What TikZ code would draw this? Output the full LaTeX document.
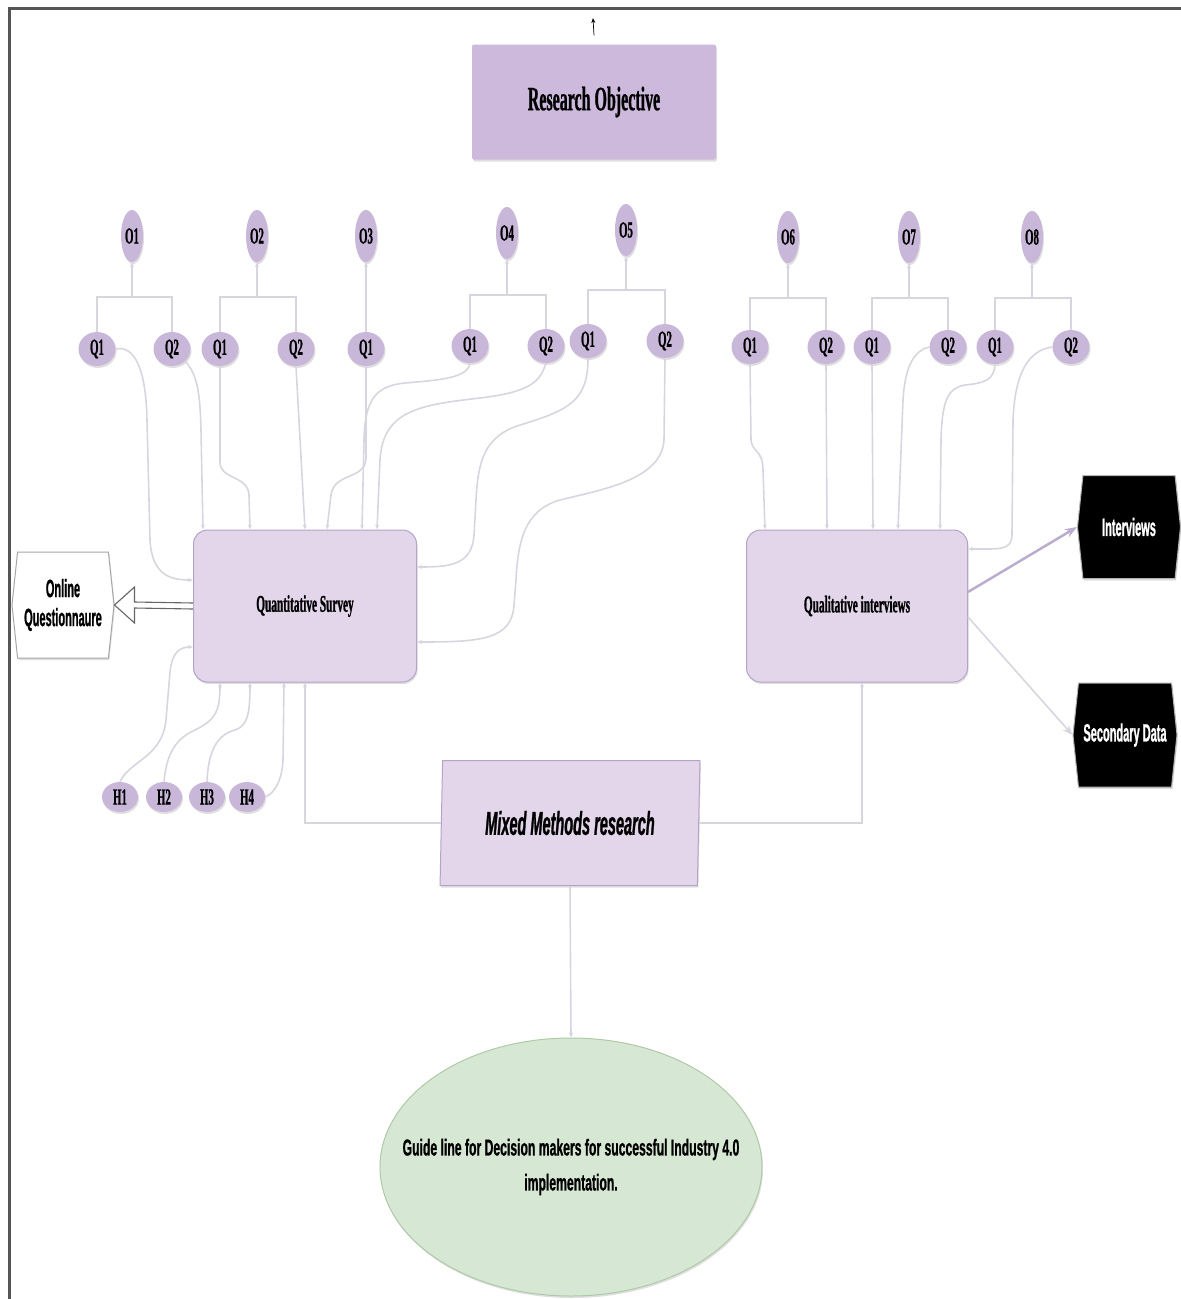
\documentclass[tikz,border=0pt]{standalone}
\usepackage{fontspec}
\usetikzlibrary{shapes.geometric,shapes.symbols,arrows.meta,shadows,calc}
\newfontfamily\serc[FakeStretch=0.47,FakeBold=0.8]{Liberation Serif Bold}
\newfontfamily\sanN[FakeStretch=0.44,FakeBold=0.8]{Liberation Sans Bold}
\newfontfamily\sanNI[FakeStretch=0.44,FakeBold=0.8]{Liberation Sans Bold Italic}
\newfontfamily\sanG[FakeStretch=0.53,FakeBold=0.8]{Liberation Sans Bold}
\definecolor{rofill}{HTML}{CCB9DC}
\definecolor{qfill}{HTML}{C9B7D9}
\definecolor{boxfill}{HTML}{E3D6EB}
\definecolor{boxdraw}{HTML}{B4A4C8}
\definecolor{lnc}{HTML}{D9D5E0}
\definecolor{gfill}{HTML}{D6E8D3}
\definecolor{gdraw}{HTML}{AFC9A8}
\definecolor{frame}{HTML}{555555}
\begin{document}
\begin{tikzpicture}[x=1pt,y=-1pt,
  shad/.style={drop shadow={shadow xshift=1pt,shadow yshift=-2pt,opacity=0.25}},
  qn/.style={ellipse,fill=qfill,minimum width=37pt,minimum height=34pt,inner sep=0pt,
    font=\serc\fontsize{23}{23}\selectfont,shad},
  on/.style={ellipse,fill=qfill,minimum width=22pt,minimum height=52pt,inner sep=0pt,
    font=\serc\fontsize{23}{23}\selectfont,shad},
  hn/.style={ellipse,fill=qfill,minimum width=36pt,minimum height=30pt,inner sep=0pt,
    font=\serc\fontsize{23}{23}\selectfont,shad},
  bigbox/.style={rectangle,rounded corners=14pt,fill=boxfill,draw=boxdraw,line width=1pt,
    minimum width=223pt,minimum height=152pt,font=\serc\fontsize{24}{24}\selectfont,shad},
  sig/.style={signal,signal to=west and east,signal pointer angle=168,inner sep=0pt,
    font=\sanN\fontsize{25}{29}\selectfont,align=center},
  conn/.style={draw=lnc,line width=1.6pt},
  tip/.style={-{Stealth[length=5pt,width=4pt]}},
]
\useasboundingbox (0,0) rectangle (1181,1299);
\fill[white] (0,0) rectangle (1181,1299);
\draw[line width=3pt,color=frame] (9,1299) -- (9,8) -- (1181,8);

% top
\node[rectangle,rounded corners=2pt,fill=rofill,minimum width=244pt,minimum height=115pt,
  font=\serc\fontsize{34}{34}\selectfont,shad] (ro) at (594,102) {Research Objective};
\coordinate (roa) at (593,18);
\draw[-{Stealth[length=5pt,width=4pt]},line width=0.7pt] ([yshift=9pt]ro.north) -- (roa);

% objectives
\node[on] (o1) at (132,236) {O1};
\node[on] (o2) at (257,236) {O2};
\node[on] (o3) at (366,236) {O3};
\node[on] (o4) at (507,233) {O4};
\node[on] (o5) at (626,230) {O5};
\node[on] (o6) at (788,237) {O6};
\node[on] (o7) at (909,237) {O7};
\node[on] (o8) at (1032,237) {O8};

% questions
\node[qn] (g1a) at (97,349) {Q1};
\node[qn] (g1b) at (172,349) {Q2};
\node[qn] (g2a) at (220,349) {Q1};
\node[qn] (g2b) at (296,349) {Q2};
\node[qn] (g3a) at (366,349) {Q1};
\node[qn] (g4a) at (470,346) {Q1};
\node[qn] (g4b) at (546,346) {Q2};
\node[qn] (g5a) at (588,341) {Q1};
\node[qn] (g5b) at (665,341) {Q2};
\node[qn] (g6a) at (750,347) {Q1};
\node[qn] (g6b) at (826,347) {Q2};
\node[qn] (g7a) at (872,347) {Q1};
\node[qn] (g7b) at (948,347) {Q2};
\node[qn] (g8a) at (995,347) {Q1};
\node[qn] (g8b) at (1071,347) {Q2};

% brackets
\draw[conn] (g1a.north) |- (g1b.north |- 0,297) -- (g1b.north);
\draw[conn,tip] (o1.south |- 0,297) -- (o1.south);
\draw[conn] (g2a.north) |- (g2b.north |- 0,297) -- (g2b.north);
\draw[conn,tip] (o2.south |- 0,297) -- (o2.south);
\draw[conn,tip] (g3a.north) -- (o3.south);
\draw[conn] (g4a.north) |- (g4b.north |- 0,295) -- (g4b.north);
\draw[conn,tip] (o4.south |- 0,295) -- (o4.south);
\draw[conn] (g5a.north) |- (g5b.north |- 0,290) -- (g5b.north);
\draw[conn,tip] (o5.south |- 0,290) -- (o5.south);
\draw[conn] (g6a.north) |- (g6b.north |- 0,298) -- (g6b.north);
\draw[conn,tip] (o6.south |- 0,298) -- (o6.south);
\draw[conn] (g7a.north) |- (g7b.north |- 0,298) -- (g7b.north);
\draw[conn,tip] (o7.south |- 0,298) -- (o7.south);
\draw[conn] (g8a.north) |- (g8b.north |- 0,298) -- (g8b.north);
\draw[conn,tip] (o8.south |- 0,298) -- (o8.south);

% main boxes
\node[bigbox] (qs) at (305,606) {Quantitative Survey};
\node[bigbox,minimum width=221pt] (qi) at (857,606) {Qualitative interviews};

% side nodes
\node[sig,fill=white,draw=gray!70,line width=1pt,minimum width=102pt,minimum height=106pt,shad] (oq) at (63,605) {Online\\Questionnaure};
\node[sig,fill=black,draw=gray!60,line width=1pt,text=white,minimum width=103pt,minimum height=103pt,shad] (iv) at (1129,527) {Interviews};
\node[sig,fill=black,draw=gray!60,line width=1pt,text=white,minimum width=104pt,minimum height=104pt,shad] (sd) at (1125,735) {Secondary Data};

% hollow arrow
\draw[draw=gray!80!black,line width=1.1pt,fill=white,line join=miter]
  ($(qs.west)+(0,-3)$) -- ($(oq.east)+(20,-3)$) -- ($(oq.east)+(20,-18)$) -- (oq.east)
  -- ($(oq.east)+(20,18)$) -- ($(oq.east)+(20,3)$) -- ($(qs.west)+(0,3)$);

% Q -> Quantitative survey
\draw[conn,tip] (g1a.east) .. controls (135,345) and (146,370) .. (147,420) -- (150,540)
  .. controls (152,575) and (170,580) .. (qs.west |- 0,580);
\draw[conn,tip] (g1b.south east) .. controls (198,375) and (200,395) .. (201,430) -- (qs.north -| 203,0);
\draw[conn,tip] (g2a.south) -- (220,462) .. controls (220,480) and (248,475) .. (249,495) -- (qs.north -| 250,0);
\draw[conn,tip] (g2b.south) -- (qs.north -| 305,0);
\draw[conn,tip] (g3a.south) -- (366,458) .. controls (366,480) and (334,472) .. (331,495) -- (qs.north -| 327,0);
\draw[conn,tip] (g4a.south) .. controls (468,378) and (440,380) .. (405,383)
  .. controls (375,386) and (365,400) .. (364,440) -- (qs.north -| 362,0);
\draw[conn,tip] (g4b.south) .. controls (540,382) and (530,392) .. (480,398)
  .. controls (420,405) and (383,410) .. (380,460) -- (qs.north -| 377,0);
\draw[conn,tip] (g5a.south) .. controls (588,400) and (570,410) .. (520,425)
  .. controls (485,436) and (478,460) .. (476,500) -- (474,535)
  .. controls (472,565) and (450,567) .. (qs.east |- 0,567);
\draw[conn,tip] (g5b.south) -- (664,440) .. controls (662,480) and (600,490) .. (560,500)
  .. controls (525,510) and (518,540) .. (516,580) -- (514,605)
  .. controls (512,640) and (480,642) .. (qs.east |- 0,642);

% Q -> Qualitative interviews
\draw[conn,tip] (g6a.south) -- (751,440) .. controls (752,452) and (763,450) .. (763,470) -- (qi.north -| 765,0);
\draw[conn,tip] (g6b.south) -- (qi.north -| 827,0);
\draw[conn,tip] (g7a.south) -- (qi.north -| 873,0);
\draw[conn,tip] (g7b.west) .. controls (915,350) and (905,365) .. (903,400) -- (qi.north -| 898,0);
\draw[conn,tip] (g8a.south) .. controls (994,380) and (985,383) .. (965,385)
  .. controls (948,388) and (942,400) .. (941,440) -- (qi.north -| 940,0);
\draw[conn,tip] (g8b.west) .. controls (1030,350) and (1015,370) .. (1013,420) -- (1012,535)
  .. controls (1012,546) and (1005,549) .. (990,549) -- (qi.east |- 0,549);

% Qualitative -> outputs
\draw[draw=boxdraw!90,line width=2.5pt,-{Stealth[length=12pt,width=9pt]}] (qi.east |- 0,592) -- (iv.west);
\draw[conn,-{Stealth[length=10pt,width=8pt]}] (qi.east |- 0,617) -- (sd.west);

% hypotheses
\node[hn] (h1) at (120,797) {H1};
\node[hn] (h2) at (164,797) {H2};
\node[hn] (h3) at (207,797) {H3};
\node[hn] (h4) at (247,797) {H4};
\draw[conn,tip] (h1.north) .. controls (130,760) and (162,758) .. (166,720) -- (170,672)
  .. controls (172,652) and (180,647) .. (qs.west |- 0,647);
\draw[conn,tip] (h2.north) .. controls (166,760) and (172,740) .. (195,730)
  .. controls (215,720) and (220,712) .. (qs.south -| 220,0);
\draw[conn,tip] (h3.north) .. controls (208,755) and (215,735) .. (235,730)
  .. controls (248,726) and (250,712) .. (qs.south -| 250,0);
\draw[conn,tip] (h4.east) .. controls (275,793) and (282,780) .. (283,760) -- (qs.south -| 284,0);

% mixed methods
\node[trapezium,trapezium left angle=86,trapezium right angle=94,trapezium stretches=true,
  minimum width=260pt,minimum height=125pt,fill=boxfill,draw=boxdraw,line width=1pt,inner sep=0pt,
  font=\sanNI\fontsize{33}{33}\selectfont,shad] (mm) at (570,823) {Mixed Methods research};
\draw[conn,tip] (mm.west) -| (qs.south -| 305,0);
\draw[conn,tip] (mm.east) -| (qi.south -| 862,0);

% guideline
\node[ellipse,fill=gfill,draw=gdraw,line width=1pt,minimum width=382pt,minimum height=258pt,
  inner sep=0pt,shad] (gl) at (571,1167) {};
\node[align=center,font=\sanG\fontsize{23}{35}\selectfont,inner sep=0pt] (glt) at (gl.center)
  {Guide line for Decision makers for successful Industry 4.0\\implementation.};
\draw[conn,tip] (mm.south) -- (gl.north);
\end{tikzpicture}
\end{document}
